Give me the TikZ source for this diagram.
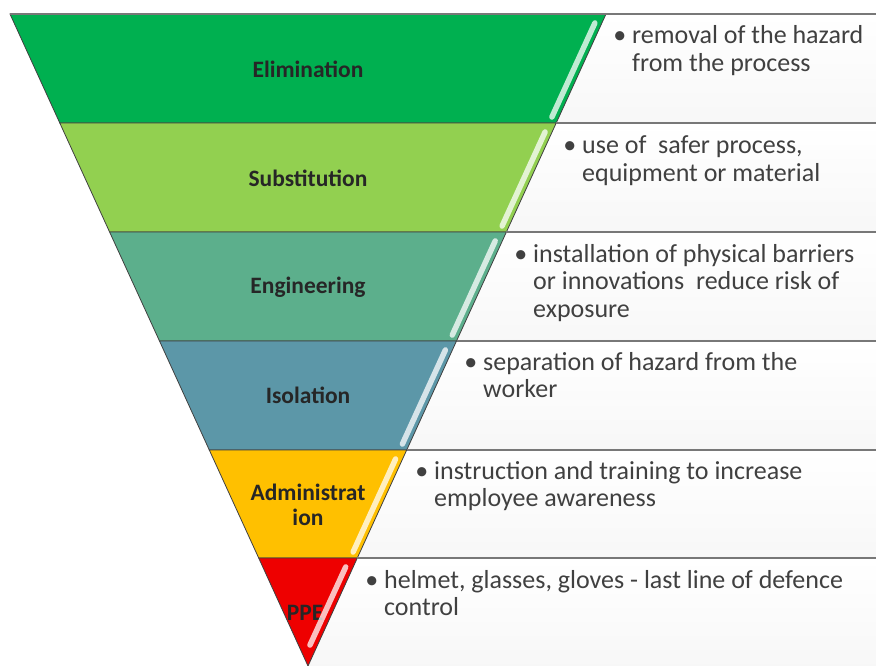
\documentclass[tikz,border=0pt]{standalone}
\usepackage{fontspec}
\setmainfont{Carlito}
\definecolor{elimgreen}{RGB}{0,176,80}
\definecolor{substgreen}{RGB}{146,208,80}
\definecolor{engteal}{RGB}{92,175,140}
\definecolor{isolblue}{RGB}{92,151,168}
\definecolor{adminamber}{RGB}{255,192,0}
\definecolor{ppered}{RGB}{238,0,0}
\definecolor{ruleGray}{RGB}{120,120,120}
\definecolor{inkGray}{RGB}{64,64,64}
\begin{document}
\begin{tikzpicture}[x=1pt,y=1pt,yscale=-1,xscale=1,
    band/.style={draw=black!75, line width=0.8pt},
    infobox/.style={top color=white, bottom color=black!3, draw=none},
    gloss/.style={draw=white, draw opacity=0.75, line width=5.5pt, line cap=round},
    rulerline/.style={draw=ruleGray, line width=1.8pt},
    lbl/.style={font=\bfseries\fontsize{23.5}{25}\selectfont, text=black!85, align=center, inner sep=0pt},
    bullettext/.style={anchor=base west, align=left, inner sep=0pt, font=\fontsize{26}{27.5}\selectfont, text=inkGray}]
\useasboundingbox (0,0) rectangle (876,666);

%Shape: Info boxes on the right
    \path [infobox] (606,14) -- (876,14) -- (876,123) -- (556.2,123) -- cycle ;
    \path [infobox] (556.2,123) -- (876,123) -- (876,232) -- (506.4,232) -- cycle ;
    \path [infobox] (506.4,232) -- (876,232) -- (876,341) -- (456.5,341) -- cycle ;
    \path [infobox] (456.5,341) -- (876,341) -- (876,450) -- (406.7,450) -- cycle ;
    \path [infobox] (406.7,450) -- (876,450) -- (876,558) -- (357.3,558) -- cycle ;
    \path [infobox] (357.3,558) -- (876,558) -- (876,666) -- (308,666) -- cycle ;

%Shape: Trapezoid [Elimination]
    \draw [band, fill=elimgreen] (10,14) -- (606,14) -- (556.2,123) -- (59.8,123) -- cycle ;
%Shape: Trapezoid [Substitution]
    \draw [band, fill=substgreen] (59.8,123) -- (556.2,123) -- (506.4,232) -- (109.6,232) -- cycle ;
%Shape: Trapezoid [Engineering]
    \draw [band, fill=engteal] (109.6,232) -- (506.4,232) -- (456.5,341) -- (159.5,341) -- cycle ;
%Shape: Trapezoid [Isolation]
    \draw [band, fill=isolblue] (159.5,341) -- (456.5,341) -- (406.7,450) -- (209.3,450) -- cycle ;
%Shape: Trapezoid [Administration]
    \draw [band, fill=adminamber] (209.3,450) -- (406.7,450) -- (357.3,558) -- (258.7,558) -- cycle ;
%Shape: Triangle [PPE]
    \draw [band, fill=ppered] (258.7,558) -- (357.3,558) -- (308,666) -- cycle ;

%Straight Lines: rules between the info boxes
    \draw [rulerline] (10,14) -- (876,14) ;
    \draw [rulerline] (556.2,123) -- (876,123) ;
    \draw [rulerline] (506.4,232) -- (876,232) ;
    \draw [rulerline] (456.5,341) -- (876,341) ;
    \draw [rulerline] (406.7,450) -- (876,450) ;
    \draw [rulerline] (357.3,558) -- (876,558) ;

% Text Node: band labels
    \node [lbl] (elim) at (308,69) {Elimination};
    \node [lbl] (subst) at (308,178) {Substitution};
    \node [lbl] (engg) at (308,287) {Engineering};
    \node [lbl] (isol) at (308,395) {Isolation};
    \node [lbl] (admin) at (308,505) {Administrat\\ion};
    \node [lbl] (ppe) at (305,613) {PPE};

%Straight Lines: gloss stripes
    \draw [gloss] (594.9,23) -- (551.9,117) ;
    \draw [gloss] (545.1,132) -- (502.1,226) ;
    \draw [gloss] (495.2,241) -- (452.3,335) ;
    \draw [gloss] (445.4,350) -- (402.4,444) ;
    \draw [gloss] (395.6,459) -- (353.1,552) ;
    \draw [gloss] (345.7,567) -- (310,645) ;

% Text Node: descriptions (anchored at the baseline of the last line)
    \node [bullettext] (elimtxt) at (632,71.5) {\llap{•\hspace{6pt}}removal of the hazard\\from the process};
    \node [bullettext] (substtxt) at (582,181.5) {\llap{•\hspace{6pt}}use of\ \ safer process,\\equipment or material};
    \node [bullettext] (enggtxt) at (533,317) {\llap{•\hspace{6pt}}installation of physical barriers\\or innovations\ \ reduce risk of\\exposure};
    \node [bullettext] (isoltxt) at (483,397.5) {\llap{•\hspace{6pt}}separation of hazard from the\\worker};
    \node [bullettext] (admintxt) at (434,506.5) {\llap{•\hspace{6pt}}instruction and training to increase\\employee awareness};
    \node [bullettext] (ppetxt) at (384,615.5) {\llap{•\hspace{6pt}}helmet, glasses, gloves - last line of defence\\control};

\end{tikzpicture}
\end{document}
